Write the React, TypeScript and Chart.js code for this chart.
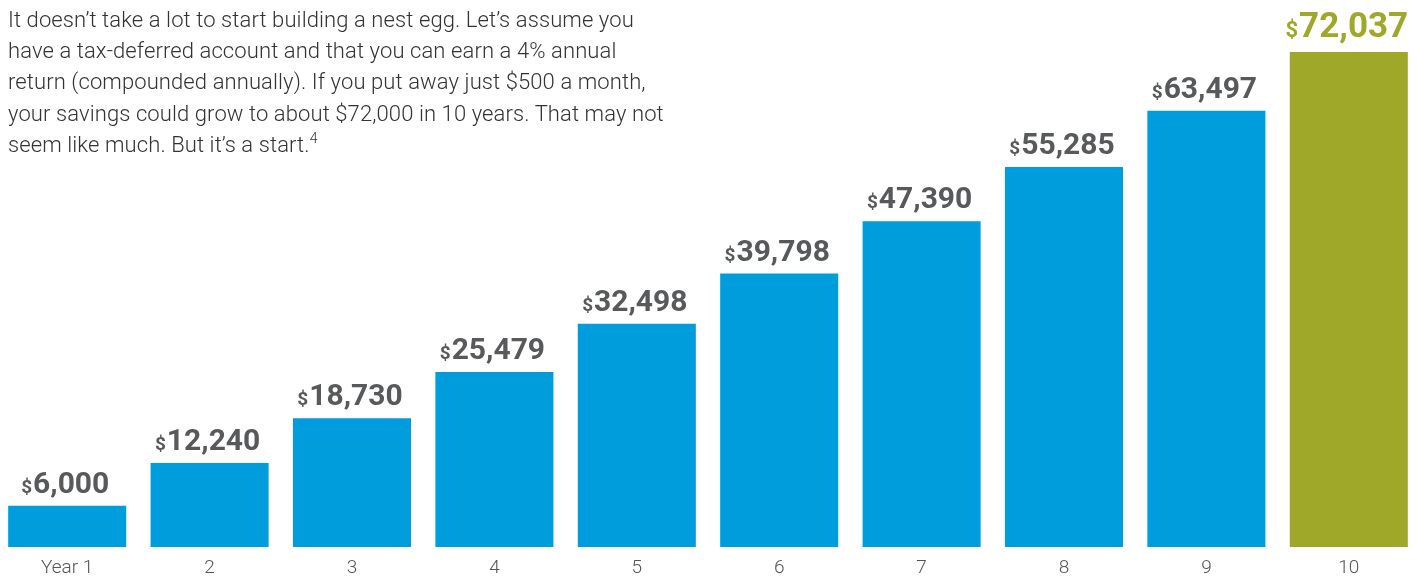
import React, { useEffect, useRef } from "react";
import { Chart, registerables } from "chart.js";

Chart.register(...registerables);

const categories = ["Year 1", "2", "3", "4", "5", "6", "7", "8", "9", "10"];
const balances = [6000, 12240, 18730, 25479, 32498, 39798, 47390, 55285, 63497, 72037];
const barColors = ["#009ddc", "#009ddc", "#009ddc", "#009ddc", "#009ddc", "#009ddc", "#009ddc", "#009ddc", "#009ddc", "#9fa829"];
const labelColors = ["#58595b", "#58595b", "#58595b", "#58595b", "#58595b", "#58595b", "#58595b", "#58595b", "#58595b", "#9fa829"];
const yMax = 79600;

const paragraphLines = [
  "It doesn\u2019t take a lot to start building a nest egg. Let\u2019s assume you",
  "have a tax-deferred account and that you can earn a 4% annual",
  "return (compounded annually). If you put away just $500 a month,",
  "your savings could grow to about $72,000 in 10 years. That may not",
  "seem like much. But it\u2019s a start.",
];
const footnote = "4";

const valueLabelPlugin = {
  id: "valueLabels",
  afterDatasetsDraw(chart: any) {
    const ctx = chart.ctx;
    const meta = chart.getDatasetMeta(0);
    const last = meta.data.length - 1;
    meta.data.forEach((bar: any, i: number) => {
      const big = i === last;
      const numFont = `bold ${big ? 35 : 30}px Roboto`;
      const dolFont = `bold ${big ? 22 : 19}px Roboto`;
      const num = balances[i].toLocaleString("en-US");
      ctx.save();
      ctx.font = numFont;
      const wn = ctx.measureText(num).width;
      ctx.font = dolFont;
      const wd = ctx.measureText("$").width + 1;
      const x0 = bar.x - (wn + wd) / 2 - 2;
      const y = bar.y - (big ? 15 : 13);
      ctx.fillStyle = labelColors[i];
      ctx.textBaseline = "alphabetic";
      ctx.textAlign = "left";
      ctx.fillText("$", x0, y);
      ctx.font = numFont;
      ctx.fillText(num, x0 + wd, y);
      ctx.restore();
    });
  },
};

export default function App() {
  const ref = useRef<HTMLCanvasElement>(null);
  useEffect(() => {
    if (!ref.current) return;
    const chart = new Chart(ref.current, {
      type: "bar",
      data: {
        labels: categories,
        datasets: [
          {
            data: balances,
            backgroundColor: barColors,
            barPercentage: 0.829,
            categoryPercentage: 1,
          },
        ],
      },
      options: {
        responsive: false,
        animation: false,
        layout: { padding: 0 },
        plugins: { legend: { display: false }, tooltip: { enabled: false } },
        scales: {
          x: {
            grid: { display: false, drawTicks: false },
            border: { display: false },
            ticks: {
              color: "#555",
              font: { family: "Roboto", size: 19, weight: "300" },
              padding: 10,
              maxRotation: 0,
              autoSkip: false,
            },
            afterFit(scale: any) {
              scale.height = 29;
            },
          },
          y: { display: false, min: 0, max: yMax },
        },
      },
      plugins: [valueLabelPlugin],
    });
    return () => chart.destroy();
  }, []);

  return (
    <div style={{ position: "absolute", left: 0, top: 0, width: 1420, height: 576, overflow: "hidden", background: "#fff" }}>
      <canvas ref={ref} width={1424} height={576} style={{ position: "absolute", left: -4, top: 0, width: 1424, height: 576 }} />
      <div
        style={{
          position: "absolute",
          left: 8,
          top: 4,
          fontFamily: "Roboto",
          fontWeight: 300,
          fontSize: 22,
          letterSpacing: "0.1px",
          lineHeight: "31.2px",
          color: "#333",
          whiteSpace: "nowrap",
        }}
      >
        {paragraphLines.map((l, i) => (
          <div key={i}>
            {l}
            {i === paragraphLines.length - 1 ? (
              <sup style={{ fontSize: 14, verticalAlign: "top", position: "relative", top: -6 }}>{footnote}</sup>
            ) : null}
          </div>
        ))}
      </div>
    </div>
  );
}
